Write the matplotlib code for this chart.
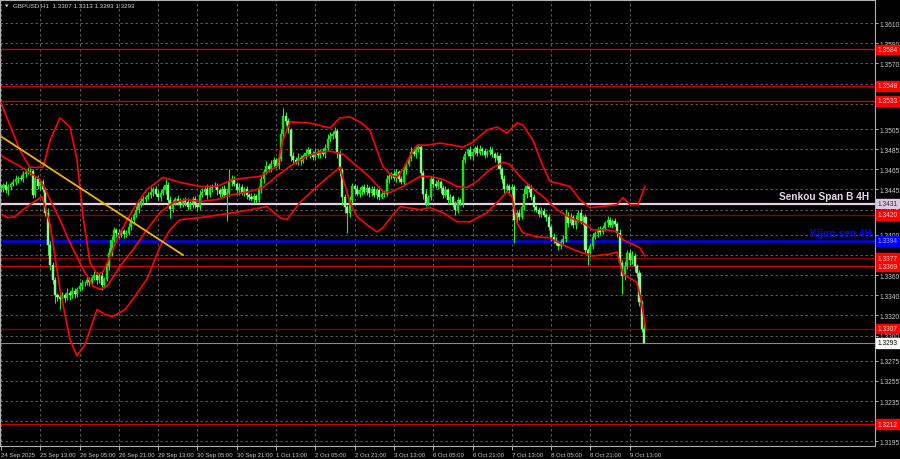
import matplotlib
matplotlib.use("Agg")
import matplotlib.pyplot as plt
from matplotlib.transforms import blended_transform_factory

# ---------------- data (prices in pips, 3446 -> 1.3446) ----------------
first_open = 3445
closes = [
    3446, 3449, 3444, 3447, 3450, 3452, 3455, 3456, 3455, 3460,
    3462, 3463, 3463, 3440, 3455, 3448, 3452, 3445, 3422, 3390,
    3370, 3355, 3340, 3338, 3336, 3340, 3337, 3342, 3340, 3344,
    3341, 3346, 3349, 3352, 3352, 3355, 3353, 3357, 3360, 3355,
    3359, 3350, 3356, 3369, 3382, 3395, 3405, 3402, 3400, 3404,
    3401, 3402, 3408, 3415, 3420, 3425, 3430, 3434, 3436, 3438,
    3440, 3443, 3445, 3441, 3438, 3442, 3444, 3449, 3435, 3426,
    3432, 3436, 3434, 3430, 3435, 3433, 3428, 3432, 3436, 3430,
    3428, 3440, 3443, 3445, 3440, 3446, 3448, 3448, 3444, 3441,
    3445, 3440, 3442, 3452, 3455, 3450, 3444, 3447, 3442, 3445,
    3440, 3438, 3436, 3439, 3435, 3445, 3455, 3462, 3468, 3465,
    3470, 3474, 3468, 3475, 3500, 3518, 3513, 3504, 3478, 3474,
    3472, 3476, 3473, 3478, 3481, 3484, 3480, 3477, 3482, 3479,
    3483, 3480, 3486, 3495, 3498, 3500, 3503, 3481, 3464, 3438,
    3428, 3422, 3435, 3448, 3445, 3441, 3444, 3447, 3443, 3446,
    3442, 3445, 3440, 3444, 3438, 3441, 3441, 3455, 3458, 3460,
    3456, 3462, 3455, 3452, 3464, 3470, 3476, 3482, 3480, 3485,
    3487, 3461, 3441, 3432, 3438, 3455, 3450, 3448, 3452, 3446,
    3440, 3444, 3435, 3438, 3430, 3425, 3435, 3432, 3474, 3480,
    3484, 3478, 3482, 3486, 3481, 3485, 3483, 3479, 3482, 3484,
    3480, 3476, 3478, 3465, 3455, 3445, 3448, 3444, 3447, 3415,
    3422, 3418, 3428, 3441, 3448, 3445, 3438, 3428, 3425, 3421,
    3424, 3420, 3418, 3408, 3398, 3395, 3392, 3389, 3393, 3396,
    3420, 3412, 3418, 3410, 3415, 3422, 3414, 3418, 3385, 3382,
    3389, 3398, 3402, 3405, 3403, 3407, 3412, 3415, 3410, 3414,
    3411, 3402, 3372, 3359, 3369, 3382, 3375, 3379, 3369, 3362,
    3333, 3307, 3293,
]
upper_wick = [
    3, 2, 4, 3, 2, 3, 4, 2, 3, 3,  2, 4, 3, 2, 3, 4, 2, 3, 2, 5,
    4, 3, 3, 2, 4, 3, 2, 5, 3, 4,  3, 2, 4, 3, 2, 5, 3, 2, 4, 3,
    3, 4, 2, 3, 5, 4, 3, 2, 4, 3,  2, 3, 4, 3, 2, 4, 3, 5, 3, 2,
    3, 4, 2, 3, 3, 2, 4, 6, 3, 4,  3, 2, 4, 3, 2, 3, 4, 2, 3, 3,
    2, 4, 3, 2, 5, 3, 2, 4, 3, 2,  3, 4, 3, 13, 4, 3, 2, 4, 3, 2,
    3, 2, 4, 3, 2, 3, 4, 3, 5, 3,  4, 3, 2, 3, 5, 8, 4, 3, 2, 4,
    3, 5, 3, 2, 4, 3, 2, 3, 4, 3,  2, 3, 4, 5, 4, 3, 4, 2, 3, 2,
    3, 2, 4, 3, 2, 4, 3, 2, 3, 4,  2, 3, 3, 2, 4, 2, 3, 4, 3, 2,
    4, 3, 2, 3, 4, 3, 2, 5, 3, 4,  3, 2, 3, 4, 2, 3, 2, 4, 3, 2,
    3, 4, 2, 3, 2, 4, 3, 2, 4, 3,  2, 4, 3, 2, 3, 4, 2, 3, 2, 4,
    3, 2, 4, 3, 2, 4, 3, 2, 3, 2,  3, 4, 2, 5, 3, 2, 4, 3, 2, 3,
    4, 3, 2, 3, 2, 4, 3, 2, 3, 4,  6, 3, 4, 2, 5, 3, 4, 2, 3, 2,
    3, 4, 2, 3, 4, 3, 2, 4, 3, 2,  3, 2, 4, 3, 5, 3, 4, 5, 3, 2,
    3, 2, 6,
]
lower_wick = [
    2, 3, 2, 4, 3, 2, 3, 4, 2, 3,  3, 2, 4, 3, 2, 3, 4, 2, 3, 10,
    5, 4, 8, 4, 10, 3, 4, 2, 5, 3,  4, 3, 2, 4, 3, 2, 4, 3, 2, 4,
    3, 5, 3, 2, 4, 3, 2, 4, 3, 2,  4, 3, 2, 3, 4, 2, 3, 2, 4, 3,
    2, 3, 4, 2, 3, 4, 2, 3, 4, 9,  3, 2, 4, 3, 2, 4, 3, 2, 5, 3,
    4, 3, 2, 3, 4, 2, 3, 2, 4, 3,  3, 2, 26, 3, 4, 2, 3, 4, 2, 3,
    4, 3, 2, 4, 3, 2, 3, 4, 2, 3,  3, 4, 2, 3, 2, 3, 4, 3, 5, 4,
    2, 3, 4, 2, 3, 2, 4, 3, 2, 3,  3, 2, 4, 3, 2, 3, 4, 5, 6, 8,
    6, 20, 4, 3, 4, 2, 3, 4, 2, 3,  4, 3, 2, 4, 3, 2, 3, 2, 4, 3,
    2, 4, 3, 2, 3, 4, 2, 3, 2, 4,  3, 4, 5, 3, 2, 3, 4, 2, 3, 4,
    3, 2, 4, 3, 2, 5, 3, 2, 4, 3,  2, 3, 4, 2, 3, 2, 4, 3, 2, 3,
    3, 4, 2, 5, 4, 3, 2, 4, 3, 23,  4, 3, 2, 3, 4, 2, 3, 4, 2, 3,
    3, 2, 4, 3, 4, 3, 2, 4, 3, 2,  3, 4, 2, 3, 4, 2, 3, 4, 3, 12,
    4, 3, 2, 4, 3, 2, 3, 4, 2, 3,  2, 4, 5, 18, 4, 3, 5, 4, 6, 4,
    4, 3, 0,
]

# Bollinger-type bands (bar index, price)
upper_x = [0, 7.7, 11.8, 17.1, 20.0, 24.0, 28.1, 30.9, 33.4, 36.2, 39.1, 41.5, 44.4, 48.5,
           53.7, 59.4, 66.0, 72.9, 81.0, 88.0, 94.5, 105.5, 112.4, 114.8, 117.7, 125.8,
           134.0, 138.0, 142.1, 146.2, 150.2, 153.1, 155.5, 158.4, 161.2, 163.7, 166.5,
           169.4, 173.5, 178.7, 184.0, 188.1, 192.2, 197.9, 202.0, 206.0, 210.1, 212.5,
           216.6, 220.7, 223.5, 228.8, 231.7, 235.7, 239.8, 243.9, 250.8, 253.3, 256.1,
           259.4, 262.2]
upper_p = [3531, 3484, 3467, 3467, 3494, 3516, 3507, 3475, 3418, 3373, 3361, 3363, 3379, 3402,
           3425, 3445, 3457, 3452, 3448, 3448, 3455, 3458, 3468, 3494, 3512, 3511,
           3506, 3516, 3517, 3512, 3504, 3484, 3468, 3460, 3457, 3465, 3478,
           3489, 3489, 3491, 3489, 3487, 3492, 3504, 3507, 3501, 3511, 3509,
           3494, 3468, 3453, 3450, 3448, 3435, 3427, 3428, 3430, 3437, 3430,
           3430, 3448]
middle_x = [0.4, 7.7, 15.9, 20.0, 24.0, 28.1, 33.4, 37.5, 40.3, 43.2, 48.5, 53.7, 59.4, 64.7,
            70.0, 75.7, 81.0, 88.0, 94.5, 101.4, 106.7, 110.7, 114.8, 118.9, 124.6, 129.9,
            134.0, 139.3, 145.0, 150.2, 155.5, 158.4, 163.7, 170.6, 174.7, 180.0, 185.7,
            189.7, 193.8, 199.1, 204.4, 207.2, 211.3, 215.4, 220.7, 226.4, 231.7, 237.0,
            241.0, 246.7, 250.8, 253.3, 256.1, 260.2, 262.2]
middle_p = [3478, 3468, 3455, 3435, 3415, 3392, 3366, 3349, 3346, 3349, 3369, 3385, 3405, 3422,
            3432, 3435, 3433, 3435, 3440, 3443, 3447, 3455, 3463, 3470, 3478, 3482,
            3483, 3480, 3468, 3457, 3443, 3442, 3448, 3458, 3458, 3455, 3448,
            3447, 3453, 3465, 3472, 3470, 3458, 3448, 3438, 3425, 3417, 3412,
            3405, 3405, 3403, 3395, 3392, 3387, 3379]
lower_x = [0.4, 2.9, 5.7, 9.0, 13.0, 16.7, 20.0, 24.0, 28.1, 30.9, 34.2, 39.1, 42.3, 45.6,
           50.5, 53.7, 59.4, 64.7, 68.8, 72.9, 81.0, 89.2, 97.3, 108.3, 113.6, 116.4,
           121.7, 128.7, 134.0, 138.0, 142.1, 145.0, 149.0, 153.1, 155.5, 159.6, 162.5,
           170.6, 174.7, 180.0, 185.7, 191.0, 197.9, 203.2, 206.0, 208.1, 210.1, 212.5,
           218.2, 223.5, 228.8, 234.5, 241.0, 248.0, 250.8, 253.3, 258.9, 260.6, 262.6]
lower_p = [3420, 3417, 3418, 3425, 3432, 3438, 3410, 3346, 3296, 3280, 3291, 3326, 3321, 3319,
           3326, 3336, 3356, 3388, 3405, 3415, 3417, 3420, 3423, 3428, 3417, 3415,
           3432, 3448, 3459, 3467, 3432, 3418, 3410, 3403, 3407, 3420, 3428,
           3425, 3427, 3422, 3413, 3413, 3422, 3435, 3443, 3438, 3412, 3402,
           3398, 3397, 3390, 3384, 3379, 3381, 3383, 3361, 3353, 3336, 3306]

trend_x = [0.4, 74.1]
trend_p = [3497, 3380]

# horizontal levels
level_prices = [1.3584, 1.3548, 1.3533, 1.3420, 1.3377, 1.3369, 1.3307, 1.3212]
level_colors = ['#c80000', '#c80000', '#c80000', '#8b0000', '#8b0000', '#d00000', '#8b0000', '#c80000']
senkou_price = 1.3431
kijun_price = 1.3394
bid_price = 1.3293

ytick_vals = [1.3610, 1.3590, 1.3570, 1.3550, 1.3530, 1.3505, 1.3485, 1.3465, 1.3445, 1.3425,
              1.3400, 1.3380, 1.3360, 1.3340, 1.3320, 1.3300, 1.3275, 1.3255, 1.3235, 1.3215, 1.3195]
xtick_bars = [0, 16, 32, 48, 64, 80, 96, 112, 128, 144, 160, 176, 192, 208, 224, 240, 256]
xtick_labels = ['24 Sep 2025', '25 Sep 13:00', '26 Sep 05:00', '26 Sep 21:00', '29 Sep 13:00',
                '30 Sep 05:00', '30 Sep 21:00', '1 Oct 13:00', '2 Oct 05:00', '2 Oct 21:00',
                '3 Oct 13:00', '6 Oct 05:00', '6 Oct 21:00', '7 Oct 13:00', '8 Oct 05:00',
                '8 Oct 21:00', '9 Oct 13:00']
title_text = 'GBPUSD,H1  1.3307 1.3313 1.3293 1.3293'


def px(v):
    return 1.0 + v / 10000.0


small_fam = ['Liberation Sans', 'DejaVu Sans']

# ---------------- figure ----------------
fig = plt.figure(figsize=(9, 4.6), dpi=100, facecolor='black')
ax = fig.add_axes([0.0, 13 / 460, 875 / 900, 446 / 460], facecolor='black')
ax.set_xlim(-0.41, 355.9)
ax.set_ylim(1.31905, 1.3633)

# grid
for b in xtick_bars:
    ax.axvline(b, color='#6a6a6a', lw=0.6, ls=(0, (3, 3)), zorder=0)
for v in ytick_vals:
    ax.axhline(v, color='#6a6a6a', lw=0.6, ls=(0, (3, 3)), zorder=0)

# horizontal level lines
for p, c in zip(level_prices, level_colors):
    ax.axhline(p, color=c, lw=1.0, zorder=1)
ax.axhline(senkou_price, color='#e2cfe2', lw=1.6, zorder=1)
ax.axhline(kijun_price, color='#0000ff', lw=1.8, zorder=1)
ax.axhline(bid_price, color='#8a8a8a', lw=0.8, zorder=1)

# candles
opens = [first_open] + closes[:-1]
idx = list(range(len(closes)))
highs = [max(o, c) + u for o, c, u in zip(opens, closes, upper_wick)]
lows = [min(o, c) - l for o, c, l in zip(opens, closes, lower_wick)]
ax.vlines(idx, [px(v) for v in lows], [px(v) for v in highs], color='#2ee62e', lw=0.8, zorder=3)
bottoms = [px(min(o, c)) for o, c in zip(opens, closes)]
heights = [max(abs(c - o), 0.6) / 10000.0 for o, c in zip(opens, closes)]
cols = ['#12e012' if c >= o else '#8cfa8c' for o, c in zip(opens, closes)]
ax.bar(idx, heights, bottom=bottoms, width=0.85, color=cols, edgecolor=cols, lw=0.3, zorder=3)

# bands
ax.plot(upper_x, [px(v) for v in upper_p], color='#ff0000', lw=1.2, zorder=4)
ax.plot(middle_x, [px(v) for v in middle_p], color='#ff0000', lw=1.2, zorder=4)
ax.plot(lower_x, [px(v) for v in lower_p], color='#ff0000', lw=1.2, zorder=4)

# trend line
ax.plot(trend_x, [px(v) for v in trend_p], color='#f0b400', lw=1.3, zorder=5)

# texts on chart
tr = blended_transform_factory(ax.transAxes, ax.transData)
bold_fam = ['Liberation Sans', 'DejaVu Sans']
ax.text(869 / 875, senkou_price + 0.0003, 'Senkou Span B 4H', transform=tr, ha='right', va='bottom',
        color='#e6d6ea', fontsize=7.3, fontweight='bold', family=bold_fam, zorder=6)
ax.text(872 / 875, kijun_price + 0.0003, 'Kijun-sen 4H', transform=tr, ha='right', va='bottom',
        color='#0000ff', fontsize=7.3, fontweight='bold', family=bold_fam, zorder=6)

# axes styling
for s in ax.spines.values():
    s.set_color('#b0b0b0')
    s.set_linewidth(0.8)
ax.yaxis.tick_right()
ax.set_yticks(ytick_vals)
ax.set_yticklabels(['%.4f' % v for v in ytick_vals], family=small_fam)
ax.set_xticks(xtick_bars)
ax.set_xticklabels(xtick_labels, ha='left', family=small_fam)
ax.tick_params(axis='y', colors='#c8c8c8', labelsize=4.8, length=2, width=0.6, pad=1.0)
ax.tick_params(axis='x', colors='#c8c8c8', labelsize=4.3, length=3, width=0.6, pad=1.0)
for lbl in ax.get_xticklabels():
    lbl.set_horizontalalignment('left')

# right-side price labels
def price_tag(p, bg, fg):
    ax.text(1.0025, p, '%.4f' % p, transform=tr, ha='left', va='center', fontsize=4.8,
            family=small_fam, color=fg, zorder=10, clip_on=False,
            bbox=dict(boxstyle='square,pad=0.2', facecolor=bg, edgecolor=bg))

for p in level_prices:
    price_tag(p, '#ff0000', '#ffd0d0')
price_tag(senkou_price, '#dcc8e0', '#303030')
price_tag(kijun_price, '#0000ff', '#a0a0ff')
price_tag(bid_price, '#ffffff', '#000000')

# title
fig.text(5 / 900, 1 - 6 / 460, '\u25bc', color='#d0d0d0', fontsize=3.2, va='center', ha='left')
fig.text(13 / 900, 1 - 6 / 460, title_text, color='#d0d0d0', fontsize=4.5, va='center', ha='left',
         family=small_fam)

fig.savefig('out.png', dpi=100, facecolor='black')
